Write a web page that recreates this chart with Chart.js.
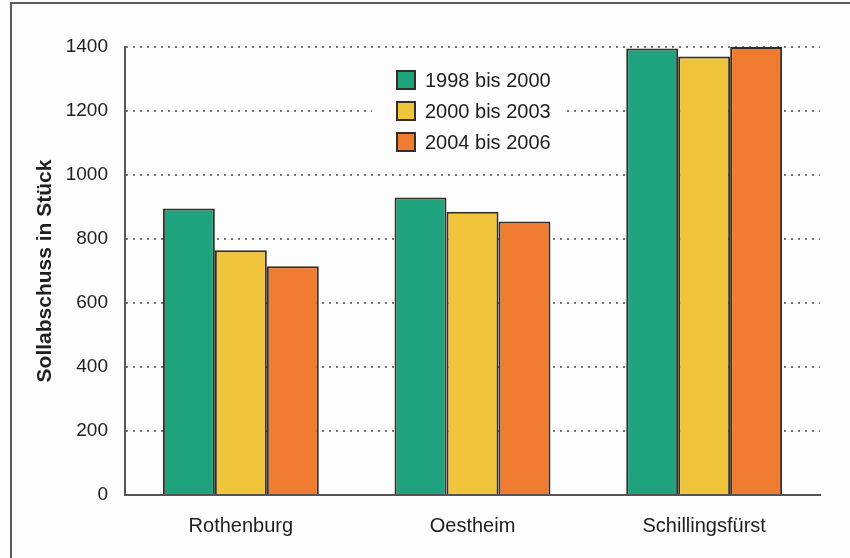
<!DOCTYPE html>
<html lang="de">
<head>
<meta charset="utf-8">
<title>Sollabschuss</title>
<script src="https://cdn.jsdelivr.net/npm/chart.js@4/dist/chart.umd.min.js"></script>
<style>
    html, body { margin: 0; padding: 0; background: #fdfdfd; }
    #wrap { width: 850px; height: 558px; position: relative; }
</style>
</head>
<body>
<div id="wrap"><canvas id="sollChart"></canvas></div>
<script>
// Hegegemeinschaften und Zeiträume
const regions = ['Rothenburg', 'Oestheim', 'Schillingsfürst'];
const periods = ['1998 bis 2000', '2000 bis 2003', '2004 bis 2006'];

// Sollabschuss je Zeitraum (Stück)
const plan1998 = [895, 930, 1395];
const plan2000 = [765, 885, 1370];
const plan2004 = [715, 855, 1400];

const yTicks = [0, 200, 400, 600, 800, 1000, 1200, 1400];

const fillColors = ['#1fa37e', '#f0c53b', '#f07c32'];
const edgeColor = '#352e22';
const fontFamily = '"Liberation Sans", Arial, Helvetica, sans-serif';

// frame line along the top and left edge
const framePlugin = {
    id: 'frame',
    beforeDraw(chart) {
        const ctx = chart.ctx;
        ctx.save();
        ctx.fillStyle = '#fdfdfd';
        ctx.fillRect(0, 0, chart.width, chart.height);
        ctx.strokeStyle = '#5a5a5a';
        ctx.lineWidth = 2;
        ctx.beginPath();
        ctx.moveTo(11, chart.height);
        ctx.lineTo(11, 3);
        ctx.lineTo(chart.width, 3);
        ctx.stroke();
        ctx.restore();
    }
};

// legend drawn inside the plot on its own white patch
const boxLegend = {
    id: 'boxLegend',
    afterDatasetsDraw(chart) {
        const ctx = chart.ctx;
        const x = 397, y0 = 80, step = 31, size = 18;
        ctx.save();
        ctx.fillStyle = '#fdfdfd';
        ctx.fillRect(372, 58, 194, 102);
        ctx.font = '20px ' + fontFamily;
        ctx.textBaseline = 'middle';
        chart.data.datasets.forEach((ds, i) => {
            const y = y0 + i * step;
            ctx.fillStyle = ds.backgroundColor;
            ctx.fillRect(x, y - size / 2, size, size);
            ctx.strokeStyle = edgeColor;
            ctx.lineWidth = 2;
            ctx.strokeRect(x, y - size / 2, size, size);
            ctx.fillStyle = '#1e1e1e';
            ctx.fillText(ds.label, x + 28, y + 1);
        });
        ctx.restore();
    }
};

const series = [plan1998, plan2000, plan2004];

new Chart(document.getElementById('sollChart'), {
    type: 'bar',
    data: {
        labels: regions,
        datasets: periods.map((p, i) => ({
            label: p,
            data: series[i],
            backgroundColor: fillColors[i],
            borderColor: edgeColor,
            borderWidth: 2,
            categoryPercentage: 0.673,
            barPercentage: 1.0
        }))
    },
    options: {
        responsive: true,
        maintainAspectRatio: false,
        animation: false,
        layout: { padding: { left: 23, right: 30, top: 47, bottom: 0 } },
        plugins: {
            legend: { display: false },
            tooltip: { enabled: false }
        },
        scales: {
            x: {
                grid: { display: false, drawTicks: false },
                border: { display: true, color: '#555', width: 2 },
                ticks: {
                    color: '#1e1e1e',
                    padding: 19,
                    font: { family: fontFamily, size: 20 }
                },
                afterFit(scale) { scale.height = 63; }
            },
            y: {
                min: 0,
                max: 1400,
                afterBuildTicks(scale) {
                    scale.ticks = yTicks.map(v => ({ value: v }));
                },
                grid: {
                    color: '#7a7a7a',
                    lineWidth: 2,
                    drawTicks: false
                },
                border: { display: true, color: '#555', width: 2, dash: [2, 5] },
                ticks: {
                    color: '#1e1e1e',
                    padding: 17,
                    font: { family: fontFamily, size: 19 },
                    callback: v => String(v)
                },
                title: {
                    display: true,
                    text: 'Sollabschuss in Stück',
                    color: '#1e1e1e',
                    padding: { top: 10, bottom: 0 },
                    font: { family: fontFamily, size: 21, weight: 'bold' }
                },
                afterFit(scale) { scale.width = 102; }
            }
        }
    },
    plugins: [framePlugin, boxLegend]
});
</script>
</body>
</html>
